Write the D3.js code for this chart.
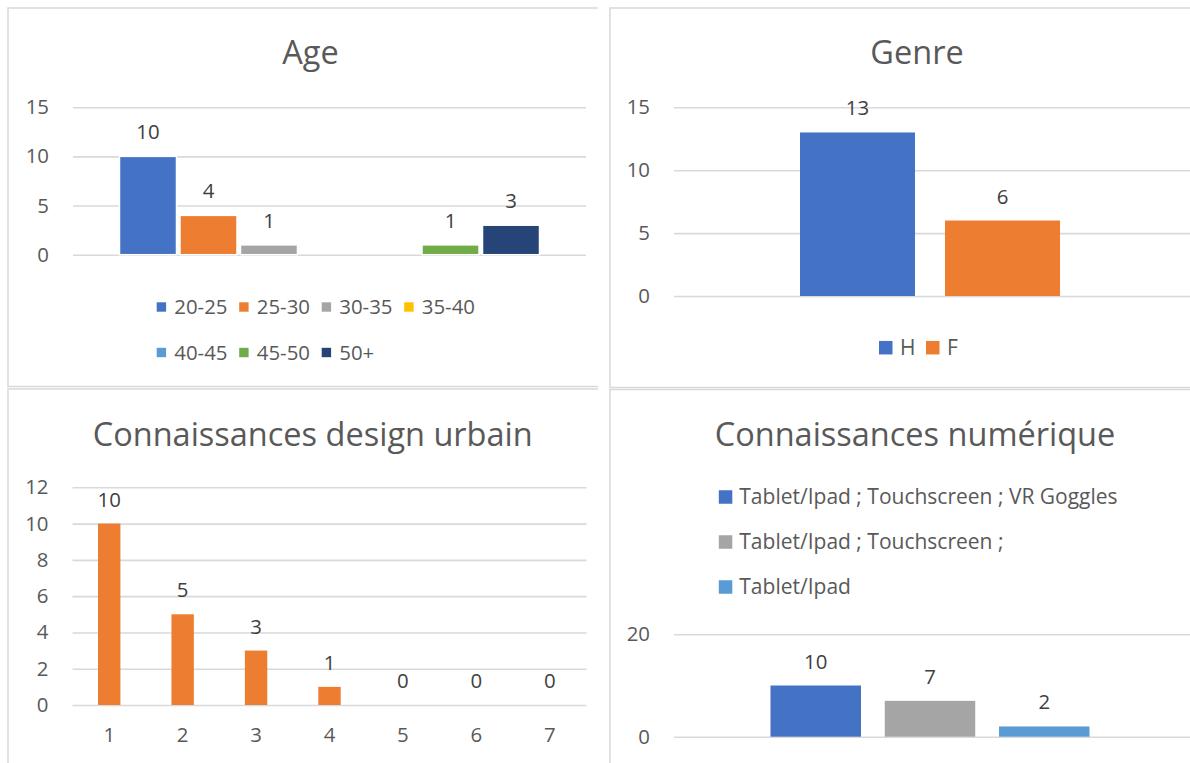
<!DOCTYPE html>
<html>
<head>
<meta charset="utf-8">
<script src="https://cdn.jsdelivr.net/npm/d3@7"></script>
<style>
  html, body { margin: 0; padding: 0; background: #ffffff; }
  svg { display: block; font-family: "Open Sans", "Noto Sans", sans-serif; }
</style>
</head>
<body>
<svg id="chart" width="1190" height="763"></svg>
<script>
// ---- Age ----
const ageGroups = ["20-25", "25-30", "30-35", "35-40", "40-45", "45-50", "50+"];
const ageCounts = [10, 4, 1, null, null, 1, 3];
const ageColors = ["#4472C4", "#ED7D31", "#A5A5A5", "#FFC000", "#5B9BD5", "#70AD47", "#264478"];
const ageTicks = [0, 5, 10, 15];

// ---- Genre ----
const genreGroups = ["H", "F"];
const genreCounts = [13, 6];
const genreColors = ["#4472C4", "#ED7D31"];
const genreTicks = [0, 5, 10, 15];

// ---- Connaissances design urbain ----
const designLevels = ["1", "2", "3", "4", "5", "6", "7"];
const designCounts = [10, 5, 3, 1, 0, 0, 0];
const designColor = "#ED7D31";
const designTicks = [0, 2, 4, 6, 8, 10, 12];

// ---- Connaissances numérique ----
const deviceGroups = ["Tablet/Ipad ; Touchscreen ; VR Goggles", "Tablet/Ipad ; Touchscreen ;", "Tablet/Ipad"];
const deviceCounts = [10, 7, 2];
const deviceColors = ["#4472C4", "#A5A5A5", "#5B9BD5"];
const deviceTicks = [0, 20];

const svg = d3.select("#chart");
const FONT = '"Open Sans", "Noto Sans", sans-serif';
const SMALL = 20.4;
const TITLE = 32.5;
const GRID = "#D9D9D9";
const AXIS_TEXT = "#595959";
const LABEL_TEXT = "#404040";

// Panel frames (only the visible edges)
function frame(pts) {
  svg.append("path")
    .attr("d", d3.line()(pts))
    .attr("fill", "none")
    .attr("stroke", "#D9D9D9")
    .attr("stroke-width", 1.5);
}
frame([[598, 8], [8, 8], [8, 386.5], [598, 386.5]]);
frame([[1190, 8], [610, 8], [610, 387.5], [1190, 387.5]]);
frame([[598, 389], [8, 389], [8, 763]]);
frame([[1190, 389.5], [610, 389.5], [610, 763]]);

function title(text, cx, baseline) {
  svg.append("text")
    .attr("x", cx).attr("y", baseline)
    .attr("text-anchor", "middle")
    .attr("font-family", FONT)
    .attr("font-size", TITLE)
    .attr("fill", AXIS_TEXT)
    .text(text);
}

function yAxis(y, ticks, left, right) {
  svg.append("g")
    .attr("transform", `translate(${left},0)`)
    .call(d3.axisLeft(y).tickValues(ticks).tickSize(-(right - left)).tickPadding(24))
    .call(a => {
      a.attr("font-family", FONT).attr("font-size", SMALL);
      a.select(".domain").remove();
      a.selectAll(".tick line").attr("stroke", GRID).attr("stroke-width", 1.6);
      a.selectAll(".tick text").attr("fill", AXIS_TEXT);
    });
}

function valueLabels(data, xc, y) {
  svg.append("g")
    .selectAll("text")
    .data(data.filter(d => d.v !== null))
    .join("text")
    .attr("x", d => xc(d))
    .attr("y", d => y(d.v) - 17)
    .attr("text-anchor", "middle")
    .attr("font-family", FONT)
    .attr("font-size", SMALL)
    .attr("fill", LABEL_TEXT)
    .text(d => d.v);
}

function legendItems(items, pos, size, textGap, fontSize) {
  const g = svg.append("g");
  const it = g.selectAll("g").data(items).join("g")
    .attr("transform", (d, i) => `translate(${pos(i)[0]},${pos(i)[1]})`);
  it.append("rect")
    .attr("x", 0).attr("y", -size / 2)
    .attr("width", size).attr("height", size)
    .attr("fill", d => d.c);
  it.append("text")
    .attr("x", size + textGap).attr("y", 0)
    .attr("dy", "0.35em")
    .attr("font-family", FONT)
    .attr("font-size", fontSize)
    .attr("fill", AXIS_TEXT)
    .text(d => d.k);
}

// ================= Age =================
{
  const left = 73, right = 586;
  const y = d3.scaleLinear().domain([0, 15]).range([254.7, 107.2]);
  const x0 = d3.scaleBand().domain(["Age"]).range([left, right]).paddingOuter(0.1107);
  const x1 = d3.scaleBand().domain(ageGroups).range([0, x0.bandwidth()]).paddingInner(0.058);
  const data = ageGroups.map((k, i) => ({ k, v: ageCounts[i], c: ageColors[i] }));

  title("Age", 310.5, 63.5);
  yAxis(y, ageTicks, left, right);

  svg.append("g").selectAll("rect")
    .data(data.filter(d => d.v !== null))
    .join("rect")
    .attr("x", d => x0("Age") + x1(d.k))
    .attr("width", x1.bandwidth())
    .attr("y", d => y(d.v))
    .attr("height", d => y(0) - y(d.v))
    .attr("fill", d => d.c)
    .attr("stroke", "#ffffff")
    .attr("stroke-width", 1.5);

  valueLabels(data, d => x0("Age") + x1(d.k) + x1.bandwidth() / 2, y);

  legendItems(data, i => [156.7 + (i % 4) * 82.5, 307 + Math.floor(i / 4) * 45.5], 9.4, 8.2, SMALL);
}

// ================= Genre =================
{
  const left = 674, right = 1186;
  const y = d3.scaleLinear().domain([0, 15]).range([296, 107.3]);
  const x0 = d3.scaleBand().domain(["Genre"]).range([left, right]).paddingOuter(0.4846);
  const x1 = d3.scaleBand().domain(genreGroups).range([0, x0.bandwidth()]).paddingInner(0.207);
  const data = genreGroups.map((k, i) => ({ k, v: genreCounts[i], c: genreColors[i] }));

  title("Genre", 917, 64);
  yAxis(y, genreTicks, left, 1192);

  svg.append("g").selectAll("rect")
    .data(data)
    .join("rect")
    .attr("x", d => x0("Genre") + x1(d.k))
    .attr("width", x1.bandwidth())
    .attr("y", d => y(d.v))
    .attr("height", d => y(0) - y(d.v))
    .attr("fill", d => d.c);

  valueLabels(data, d => x0("Genre") + x1(d.k) + x1.bandwidth() / 2, y);

  legendItems(data, i => [879 + i * 47, 347.7], 13.5, 7.5, 21);
}

// ================= Connaissances design urbain =================
{
  const left = 72.5, right = 586.5;
  const y = d3.scaleLinear().domain([0, 12]).range([705, 487.3]);
  const x = d3.scaleBand().domain(designLevels).range([left, right]).paddingInner(0.695).paddingOuter(0.3475);
  const data = designLevels.map((k, i) => ({ k, v: designCounts[i] }));

  title("Connaissances design urbain", 312.7, 445.5);
  yAxis(y, designTicks, left, right);

  svg.append("g")
    .attr("transform", `translate(0,${y(0)})`)
    .call(d3.axisBottom(x).tickSize(0).tickPadding(23))
    .call(a => {
      a.attr("font-family", FONT).attr("font-size", SMALL);
      a.select(".domain").remove();
      a.selectAll(".tick text").attr("fill", AXIS_TEXT);
    });

  svg.append("g").selectAll("rect")
    .data(data)
    .join("rect")
    .attr("x", d => x(d.k))
    .attr("width", x.bandwidth())
    .attr("y", d => y(d.v))
    .attr("height", d => y(0) - y(d.v))
    .attr("fill", designColor);

  valueLabels(data, d => x(d.k) + x.bandwidth() / 2, y);
}

// ================= Connaissances numérique =================
{
  const left = 674, right = 1186;
  const y = d3.scaleLinear().domain([0, 20]).range([736.7, 634.3]);
  const x0 = d3.scaleBand().domain(["Num"]).range([left, right]).paddingOuter(0.3025);
  const x1 = d3.scaleBand().domain(deviceGroups).range([0, x0.bandwidth()]).paddingInner(0.208);
  const data = deviceGroups.map((k, i) => ({ k, v: deviceCounts[i], c: deviceColors[i] }));

  title("Connaissances numérique", 915, 445.5);
  yAxis(y, deviceTicks, left, 1192);

  svg.append("g").selectAll("rect")
    .data(data)
    .join("rect")
    .attr("x", d => x0("Num") + x1(d.k))
    .attr("width", x1.bandwidth())
    .attr("y", d => y(d.v))
    .attr("height", d => y(0) - y(d.v))
    .attr("fill", d => d.c);

  valueLabels(data, d => x0("Num") + x1(d.k) + x1.bandwidth() / 2, y);

  legendItems(data, i => [718.8, 497 + i * 45], 13.5, 7, 21);
}
</script>
</body>
</html>
